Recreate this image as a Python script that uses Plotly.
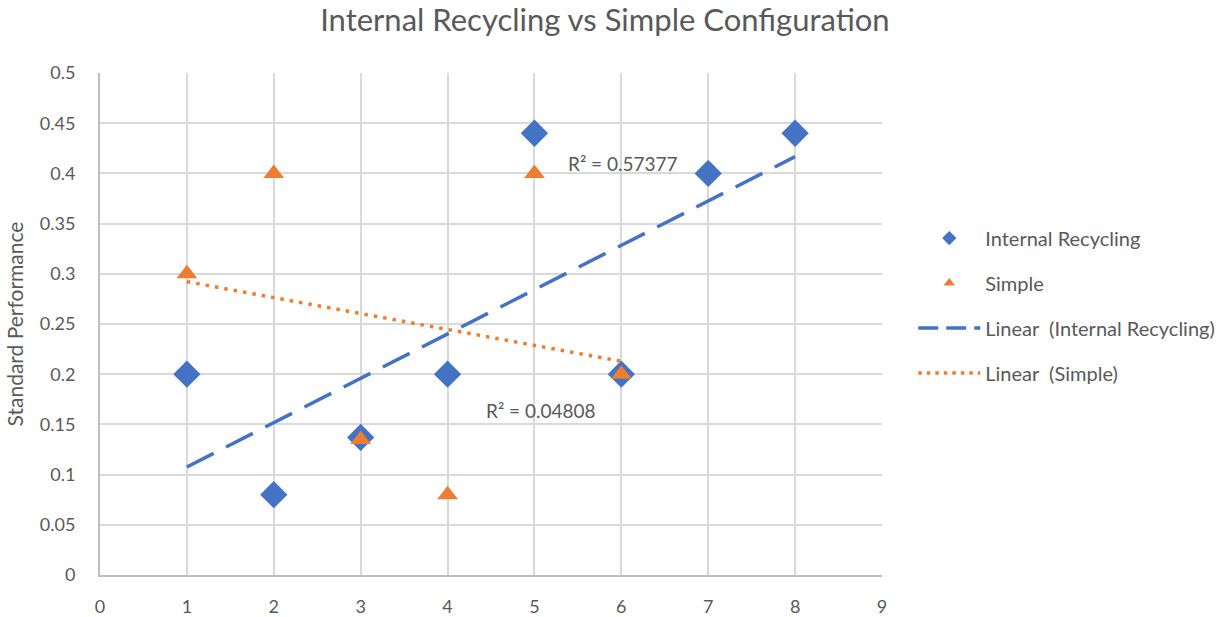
import numpy as np
import plotly.graph_objects as go

ir_x = [1, 2, 3, 4, 5, 6, 7, 8]
ir_y = [0.2, 0.08, 0.137, 0.2, 0.44, 0.2, 0.4, 0.44]
s_x = [1, 2, 3, 4, 5, 6]
s_y = [0.3, 0.4, 0.135, 0.08, 0.4, 0.2]
x_ticks = [0, 1, 2, 3, 4, 5, 6, 7, 8, 9]
y_ticks = [0, 0.05, 0.1, 0.15, 0.2, 0.25, 0.3, 0.35, 0.4, 0.45, 0.5]
ir_r2_label = "R² = 0.57377"
s_r2_label = "R² = 0.04808"

BLUE = "#4472C4"
ORANGE = "#ED7D31"
TXT = "#595959"
FONT = "Lato"


def fit(x, y):
    m, b = np.polyfit(x, y, 1)
    xs = [min(x), max(x)]
    return xs, [m * v + b for v in xs]


ir_lx, ir_ly = fit(ir_x, ir_y)
s_lx, s_ly = fit(s_x, s_y)

fig = go.Figure()
# data markers (legend shown via small-marker proxies)
fig.add_trace(go.Scatter(x=ir_x, y=ir_y, mode="markers", name="Internal Recycling",
                         showlegend=False,
                         marker=dict(symbol="diamond", size=21, color=BLUE)))
fig.add_trace(go.Scatter(x=s_x, y=s_y, mode="markers", name="Simple",
                         showlegend=False,
                         marker=dict(symbol="triangle-up", size=18, color=ORANGE)))
fig.add_trace(go.Scatter(x=ir_lx, y=ir_ly, mode="lines", showlegend=False,
                         line=dict(color=BLUE, width=3.5, dash="30px,14px")))
fig.add_trace(go.Scatter(x=s_lx, y=s_ly, mode="lines", showlegend=False,
                         line=dict(color=ORANGE, width=3.5, dash="3.5px,6px")))

# legend entries
fig.add_trace(go.Scatter(x=[None], y=[None], mode="markers", name="Internal Recycling",
                         legendgroup="a",
                         marker=dict(symbol="diamond", size=11, color=BLUE)))
fig.add_trace(go.Scatter(x=[None], y=[None], mode="markers", name="Simple",
                         legendgroup="b",
                         marker=dict(symbol="triangle-up", size=10, color=ORANGE)))
fig.add_trace(go.Scatter(x=[None], y=[None], mode="lines", name="Linear  (Internal Recycling)",
                         legendgroup="c",
                         line=dict(color=BLUE, width=3.5, dash="20px,8px")))
fig.add_trace(go.Scatter(x=[None], y=[None], mode="lines", name="Linear  (Simple)",
                         legendgroup="d",
                         line=dict(color=ORANGE, width=3.5, dash="3.5px,5px")))

fig.add_annotation(x=5.36, y=0.41, text=ir_r2_label, showarrow=False,
                   xanchor="left", yanchor="middle", font=dict(size=19, color=TXT, family=FONT))
fig.add_annotation(x=4.42, y=0.164, text=s_r2_label, showarrow=False,
                   xanchor="left", yanchor="middle", font=dict(size=19, color=TXT, family=FONT))

fig.update_layout(
    width=1232, height=617,
    margin=dict(l=100, r=350, t=73, b=42),
    paper_bgcolor="white", plot_bgcolor="white",
    font=dict(family=FONT, color=TXT, size=18),
    title=dict(text="Internal Recycling vs Simple Configuration", x=0.491, xanchor="center",
               y=0.967, yanchor="middle", font=dict(size=31, color=TXT, family=FONT)),
    xaxis=dict(range=[0, 9], tickmode="array", tickvals=x_ticks, showgrid=True,
               gridcolor="#D9D9D9", gridwidth=1.5, zeroline=False, showline=True,
               linecolor="#BFBFBF", linewidth=2, ticks="", ticklabelstandoff=14,
               automargin=False, tickfont=dict(size=18, color=TXT)),
    yaxis=dict(range=[0, 0.5], tickmode="array", tickvals=y_ticks,
               ticktext=[("%g" % v) for v in y_ticks], showgrid=True,
               gridcolor="#D9D9D9", gridwidth=1.5, zeroline=False, showline=True,
               linecolor="#BFBFBF", linewidth=2, ticks="", ticklabelstandoff=19,
               automargin=False,
               title=dict(text="Standard Performance", font=dict(size=21, color=TXT), standoff=10),
               tickfont=dict(size=18, color=TXT)),
    legend=dict(x=1.04, y=0.71, xanchor="left", yanchor="top", tracegroupgap=16,
                font=dict(size=20, color=TXT), itemwidth=62, bgcolor="rgba(0,0,0,0)"),
    showlegend=True,
)

fig.write_html("out.html")
